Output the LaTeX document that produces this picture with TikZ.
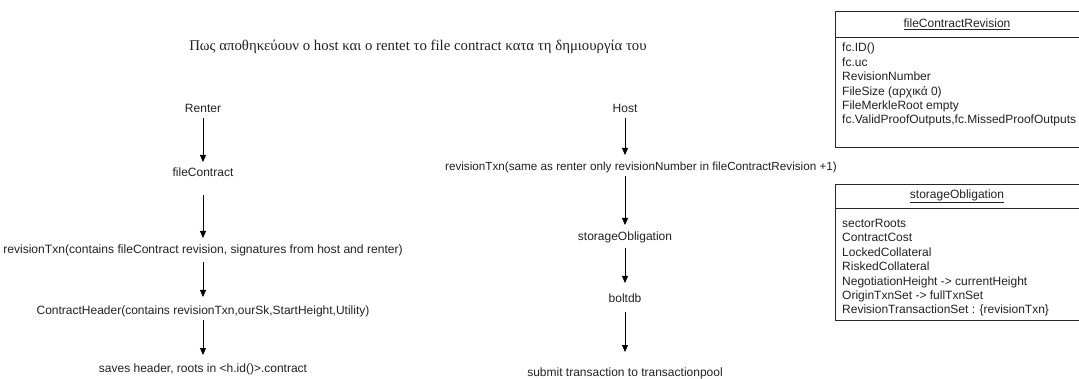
\documentclass[tikz,border=0pt]{standalone}
\usepackage{fontspec}
\setmainfont{Liberation Sans}
\newfontfamily\titlefont{Liberation Serif}
\usetikzlibrary{arrows.meta}
\definecolor{ink}{HTML}{222222}
\tikzset{
  lbl/.style={inner sep=0pt, text=ink, font=\fontsize{12}{14.4}\selectfont, anchor=center},
  arr/.style={draw=black, line width=0.9pt, -{Triangle[width=6pt,length=7pt]}},
  boxline/.style={draw=black!85, line width=0.7pt},
  boxtext/.style={inner sep=0pt, text=ink, font=\fontsize{12}{14.4}\selectfont, align=left, anchor=north west},
  boxtitle/.style={inner sep=0pt, text=ink, font=\fontsize{12}{14.4}\selectfont, anchor=center}
}
\begin{document}
\begin{tikzpicture}[x=1pt,y=-1pt]
\useasboundingbox (0,0) rectangle (1079,379);
\clip (0,0) rectangle (1079,379);
\fill[white] (0,0) rectangle (1079,379);

% heading
\node[lbl, font=\titlefont\fontsize{14.8}{17}\selectfont] (title) at (418,47)
  {Πως αποθηκεύουν ο host και ο rentet το file contract κατα τη δημιουργία του};

% renter side
\node[lbl] (renter) at (203,108) {Renter};
\node[lbl] (fc) at (203,172) {fileContract};
\node[lbl, font=\fontsize{12.1}{14.4}\selectfont] (rtxn) at (203,250) {revisionTxn(contains fileContract revision, signatures from host and renter)};
\node[lbl] (hdr) at (203,311) {ContractHeader(contains revisionTxn,ourSk,StartHeight,Utility)};
\node[lbl] (saves) at (203,369) {saves header, roots in <h.id()>.contract};

\draw[arr] ([yshift=-10pt]renter.center) -- ([yshift=10pt]fc.center);
\draw[arr] ([yshift=-23pt]fc.center) -- ([yshift=12pt]rtxn.center);
\draw[arr] ([yshift=-12pt]rtxn.center) -- ([yshift=14pt]hdr.center);
\draw[arr] ([yshift=-9pt]hdr.center) -- ([yshift=14pt]saves.center);

% host side
\node[lbl] (host) at (625,108) {Host};
\node[lbl, font=\fontsize{11.7}{14}\selectfont] (htxn) at (641,167) {revisionTxn(same as renter only revisionNumber in fileContractRevision +1)};
\node[lbl] (so) at (625,237) {storageObligation};
\node[lbl] (bolt) at (625,298) {boltdb};
\node[lbl] (submit) at (625,373) {submit transaction to transactionpool};

\draw[arr] ([yshift=-10pt]host.center) -- ([xshift=-16pt,yshift=12pt]htxn.center);
\draw[arr] ([xshift=-16pt,yshift=-9pt]htxn.center) -- ([yshift=12pt]so.center);
\draw[arr] ([yshift=-11pt]so.center) -- ([yshift=15pt]bolt.center);
\draw[arr] ([yshift=-14pt]bolt.center) -- ([yshift=21pt]submit.center);

% class box: fileContractRevision
\coordinate (fcrTL) at (835,11);
\coordinate (fcrBR) at (1090,147);
\draw[boxline] (fcrTL) rectangle (fcrBR);
\draw[boxline] (835,37) -- (1090,37);
\node[boxtitle] (fcrT) at (957,24) {\underline{fileContractRevision}};
\node[boxtext] (fcrB) at (842,43) {fc.ID()\\fc.uc\\RevisionNumber\\FileSize (αρχικά 0)\\FileMerkleRoot empty\\fc.ValidProofOutputs,fc.MissedProofOutputs};

% class box: storageObligation
\coordinate (soTL) at (835,184);
\coordinate (soBR) at (1090,320);
\draw[boxline] (soTL) rectangle (soBR);
\draw[boxline] (835,208) -- (1090,208);
\node[boxtitle] (soT) at (957,196) {\underline{storageObligation}};
\node[boxtext] (soB) at (842,219) {sectorRoots\\ContractCost\\LockedCollateral\\RiskedCollateral\\NegotiationHeight -> currentHeight\\OriginTxnSet -> fullTxnSet\\RevisionTransactionSet : \{revisionTxn\}};
\end{tikzpicture}
\end{document}
